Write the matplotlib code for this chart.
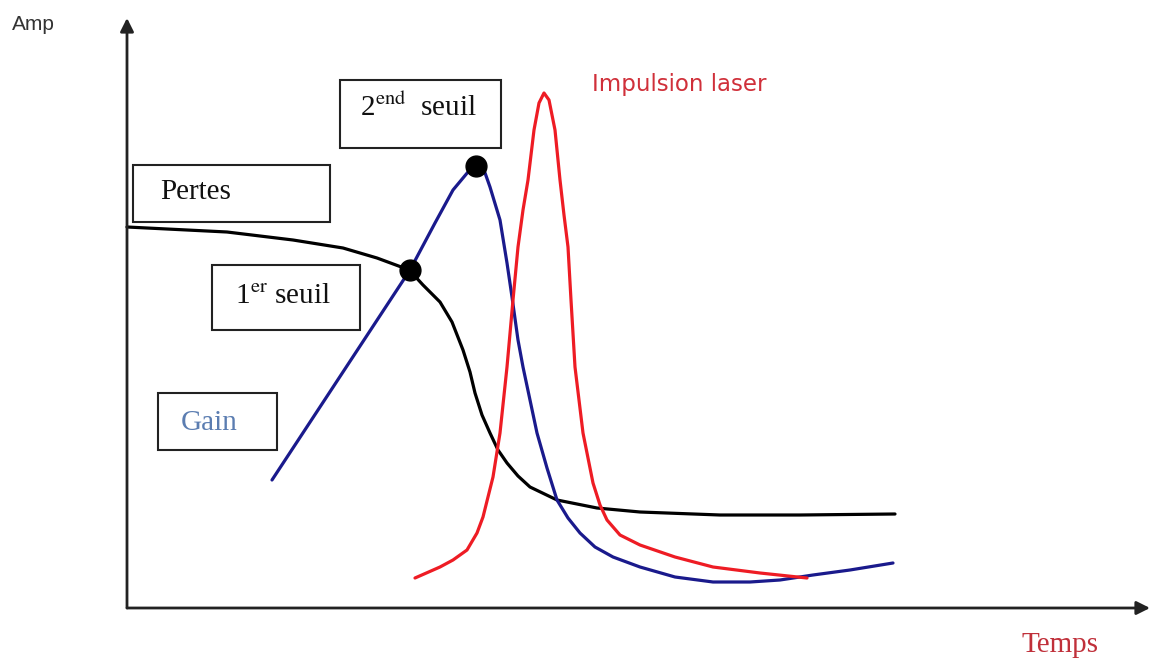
import matplotlib.pyplot as plt
from matplotlib.patches import Rectangle

plt.rcParams['mathtext.fontset'] = 'stix'

# curves (t, amplitude in arbitrary units)
pertes_t = [0, 100, 166, 216, 250, 277, 285, 296, 313, 325, 336, 343, 348, 355, 363, 371, 380, 391, 403, 430, 470, 513, 593, 673, 768]
pertes_amp = [381, 376, 368, 360, 350, 340, 335, 323, 306, 286, 258, 236, 215, 193, 175, 158, 145, 132, 121, 108, 100, 96, 93, 93, 94]

gain_t = [145, 283, 308, 326, 341, 349, 357, 363, 373, 380, 385, 391, 396, 403, 410, 420, 430, 441, 453, 468, 486, 513, 548, 586, 623, 653, 686, 723, 766]
gain_amp = [128, 338, 385, 418, 436, 442, 438, 421, 388, 345, 311, 268, 241, 208, 175, 140, 108, 90, 75, 61, 51, 41, 31, 26, 26, 28, 33, 38, 45]

laser_t = [288, 313, 326, 340, 350, 356, 366, 373, 380, 386, 391, 396, 401, 407, 412, 417, 422, 428, 433, 437, 441, 444, 448, 456, 466, 473, 480, 493, 513, 548, 586, 633, 680]
laser_amp = [30, 41, 48, 58, 75, 91, 131, 175, 241, 308, 361, 398, 428, 478, 505, 515, 508, 478, 428, 393, 361, 308, 241, 175, 125, 103, 88, 73, 63, 51, 41, 35, 30]

seuil_t = [283, 349]
seuil_amp = [338, 442]

fig = plt.figure(figsize=(11.55, 6.62), dpi=100)
ax = fig.add_axes([0, 0, 1, 1])
ax.set_xlim(-127, 1028)
ax.set_ylim(-54, 608)
ax.axis('off')

# axes with arrows
arrow = dict(arrowstyle='-|>', lw=2, color='#222222', mutation_scale=20, shrinkA=0, shrinkB=0)
ax.annotate('', xy=(0, 590), xytext=(0, 0), arrowprops=arrow)
ax.annotate('', xy=(1023, 0), xytext=(0, 0), arrowprops=arrow)

ax.plot(pertes_t, pertes_amp, color='black', lw=2.3, solid_capstyle='round', solid_joinstyle='round')
ax.plot(gain_t, gain_amp, color='#1a1a8c', lw=2.3, solid_capstyle='round', solid_joinstyle='round')
ax.plot(laser_t, laser_amp, color='#ee1c24', lw=2.3, solid_capstyle='round', solid_joinstyle='round')
ax.plot(seuil_t, seuil_amp, 'o', color='black', ms=15, zorder=5)

# label boxes
for x0, y0, w, h in [(6, 386, 197, 57), (85, 278, 148, 65), (213, 460, 161, 68), (31, 158, 119, 57)]:
    ax.add_patch(Rectangle((x0, y0), w, h, fill=False, ec='#222222', lw=1.5))

serif = 'Liberation Serif'
ax.text(33, 416, 'Pertes', family=serif, fontsize=21, va='center', color='#111111')
ax.text(156, 312, r'1$^{\rm er}$ seuil', family=serif, fontsize=21, ha='center', va='center', color='#111111')
ax.text(291, 500, r'2$^{\rm end}$  seuil', family=serif, fontsize=21, ha='center', va='center', color='#111111')
ax.text(82, 185, 'Gain', family=serif, fontsize=21, ha='center', va='center', color='#5b7db1')
ax.text(465, 523, 'Impulsion laser', family='DejaVu Sans', fontsize=16.5, va='center', color='#d0303a')
ax.text(-115, 584, 'Amp', family='Liberation Sans', fontsize=15, va='center', color='#333333')
ax.text(895, -37, 'Temps', family=serif, fontsize=21, va='center', color='#c0303a')

fig.savefig('out.png', dpi=100)
